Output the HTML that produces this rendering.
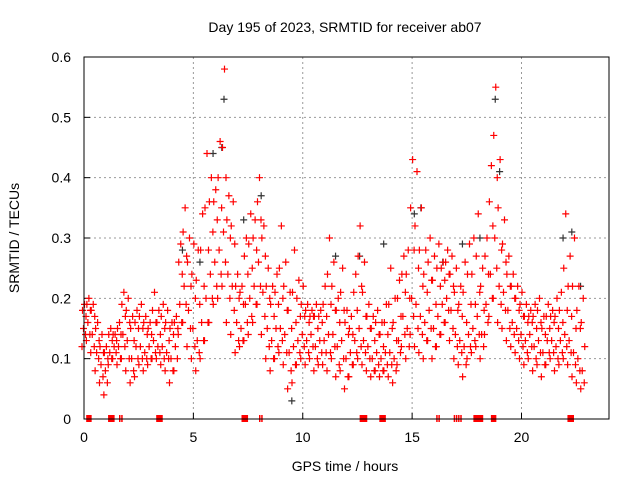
<!DOCTYPE html>
<html><head><meta charset="utf-8"><style>
body{margin:0;background:#fff}
svg text{font-family:"Liberation Sans",sans-serif;font-size:14px;fill:#000}
</style></head><body>
<svg id="c" width="640" height="480" xmlns="http://www.w3.org/2000/svg">
<rect width="640" height="480" fill="#fff"/>
<text x="345" y="32" text-anchor="middle">Day 195 of 2023, SRMTID for receiver ab07</text>
<text x="345" y="471" text-anchor="middle">GPS time / hours</text>
<text transform="translate(19,238) rotate(-90)" text-anchor="middle">SRMTID / TECUs</text>
<g id="grid"></g><g id="ticks"></g><g id="marks"></g>
<rect x="84" y="57" width="525" height="362" fill="none" stroke="#000" stroke-width="1"/>
</svg>
<script>
const xTicks=[0,5,10,15,20];
const yTicks=[0,0.1,0.2,0.3,0.4,0.5,0.6];
const times=[0,0.2,0.4,0.6,0.8,1.0,1.2,1.4,1.6,1.8,2.0,2.2,2.4,2.6,2.8,3.0,3.2,3.4,3.6,3.8,4.0,4.2,4.4,4.6,4.8,5.0,5.2,5.4,5.6,5.8,6.0,6.2,6.4,6.6,6.8,7.0,7.2,7.4,7.6,7.8,8.0,8.2,8.4,8.6,8.8,9.0,9.2,9.4,9.6,9.8,10.0,10.2,10.4,10.6,10.8,11.0,11.2,11.4,11.6,11.8,12.0,12.2,12.4,12.6,12.8,13.0,13.2,13.4,13.6,13.8,14.0,14.2,14.4,14.6,14.8,15.0,15.2,15.4,15.6,15.8,16.0,16.2,16.4,16.6,16.8,17.0,17.2,17.4,17.6,17.8,18.0,18.2,18.4,18.6,18.8,19.0,19.2,19.4,19.6,19.8,20.0,20.2,20.4,20.6,20.8,21.0,21.2,21.4,21.6,21.8,22.0,22.2,22.4,22.6,22.8];
const redLow=[.12,.13,.11,.08,.06,.04,.09,.10,.09,.10,.08,.06,.07,.09,.08,.09,.10,.10,.09,.08,.06,.08,.14,.16,.12,.10,.08,.10,.13,.16,.19,.20,.22,.16,.14,.11,.12,.13,.14,.16,.19,.14,.10,.08,.10,.11,.09,.05,.06,.09,.10,.09,.10,.08,.09,.09,.08,.10,.07,.08,.05,.07,.09,.10,.09,.08,.07,.08,.07,.08,.07,.06,.09,.12,.10,.14,.12,.11,.10,.13,.10,.12,.14,.16,.13,.10,.09,.07,.10,.11,.12,.10,.14,.17,.20,.16,.15,.13,.12,.11,.10,.09,.10,.08,.09,.07,.09,.10,.08,.09,.10,.09,.07,.06,.05];
const redA=[.14,.14,.12,.10,.07,.06,.10,.11,.10,.12,.10,.08,.10,.10,.10,.10,.11,.11,.10,.10,.08,.10,.16,.19,.15,.12,.11,.13,.16,.20,.22,.24,.26,.20,.18,.13,.13,.16,.17,.19,.22,.17,.12,.10,.12,.13,.11,.08,.09,.11,.12,.11,.12,.10,.11,.11,.11,.12,.09,.10,.07,.09,.11,.12,.11,.10,.08,.09,.08,.09,.09,.08,.11,.14,.12,.17,.15,.14,.13,.15,.12,.14,.16,.18,.15,.12,.11,.09,.12,.13,.14,.12,.16,.20,.25,.19,.18,.15,.14,.13,.12,.11,.12,.10,.11,.09,.11,.11,.10,.11,.12,.11,.09,.08,.06];
const redMid1=[.15,.16,.14,.11,.09,.08,.11,.12,.12,.14,.13,.10,.12,.12,.11,.12,.13,.12,.12,.11,.10,.12,.19,.22,.18,.15,.13,.16,.20,.24,.26,.28,.31,.24,.22,.16,.15,.19,.20,.22,.26,.21,.15,.13,.15,.15,.14,.11,.12,.13,.14,.13,.14,.12,.13,.13,.14,.14,.12,.13,.10,.11,.13,.15,.13,.12,.10,.11,.10,.11,.11,.10,.13,.17,.15,.20,.19,.17,.16,.18,.15,.17,.19,.20,.18,.14,.13,.12,.14,.15,.17,.14,.19,.24,.30,.22,.21,.18,.16,.15,.14,.13,.14,.12,.13,.11,.13,.13,.12,.13,.14,.13,.11,.10,.08];
const redMid2=[.17,.18,.17,.13,.11,.10,.13,.13,.14,.17,.16,.13,.15,.15,.14,.14,.16,.14,.15,.13,.14,.15,.24,.27,.22,.20,.19,.22,.28,.31,.33,.35,.40,.30,.29,.20,.19,.24,.25,.28,.33,.27,.20,.17,.19,.20,.18,.15,.16,.17,.17,.16,.17,.15,.16,.17,.19,.18,.16,.18,.14,.14,.18,.22,.17,.15,.13,.14,.12,.14,.15,.13,.17,.21,.20,.28,.25,.22,.21,.23,.19,.22,.23,.24,.22,.18,.17,.16,.19,.19,.21,.18,.24,.32,.40,.28,.26,.22,.20,.18,.17,.16,.16,.15,.16,.14,.15,.16,.15,.16,.18,.17,.15,.15,.12];
const redB=[.18,.19,.18,.15,.12,.11,.14,.14,.15,.19,.18,.15,.16,.17,.16,.15,.18,.16,.17,.16,.15,.16,.26,.31,.26,.24,.23,.28,.35,.36,.36,.40,.45,.33,.32,.22,.21,.27,.29,.30,.36,.30,.22,.19,.21,.25,.22,.18,.21,.20,.19,.18,.17,.17,.17,.19,.24,.22,.18,.21,.16,.15,.21,.27,.21,.17,.15,.16,.14,.16,.19,.16,.20,.24,.24,.35,.32,.28,.24,.26,.23,.25,.25,.26,.24,.21,.19,.21,.24,.24,.27,.22,.27,.36,.47,.35,.29,.24,.22,.20,.19,.17,.17,.17,.18,.15,.17,.17,.17,.18,.25,.22,.22,.18,.16];
const redHigh=[.19,.20,.19,.16,.14,.12,.15,.14,.16,.21,.20,.17,.18,.19,.17,.16,.21,.18,.19,.18,.16,.17,.29,.35,.30,.29,.28,.34,.44,.40,.38,.46,.58,.37,.36,.24,.22,.30,.34,.33,.40,.32,.25,.22,.24,.32,.26,.21,.28,.23,.22,.19,.18,.19,.18,.22,.30,.26,.20,.25,.18,.17,.24,.32,.26,.19,.17,.18,.16,.19,.25,.20,.23,.27,.28,.43,.41,.35,.28,.30,.27,.29,.26,.28,.27,.25,.22,.26,.29,.30,.34,.25,.30,.42,.55,.43,.33,.27,.24,.22,.21,.19,.18,.19,.20,.17,.19,.18,.20,.21,.34,.27,.30,.22,.20];
const blackT=[4.5,5.3,5.9,6.3,6.4,7.3,8.1,9.5,11.5,12.6,13.7,15.1,15.4,16.4,17.3,18.1,18.8,19.0,21.9,22.3,22.7];
const blackV=[.28,.26,.44,.45,.53,.33,.37,.03,.27,.27,.29,.34,.35,.26,.29,.30,.53,.41,.30,.31,.22];
const gapStarts=[0.1,1.1,1.6,1.7,3.3,7.2,8.0,8.1,12.6,13.5,16.1,16.2,16.9,17.0,17.1,17.2,17.8,17.9,18.0,18.6,22.1];
const gapWidths=[0.25,0.3,0.05,0.05,0.3,0.3,0.05,0.05,0.35,0.3,0.05,0.05,0.05,0.05,0.05,0.05,0.35,0.35,0.15,0.25,0.3];

const X0=84,X1=609,Y0=419,Y1=57;
const sx=t=>X0+t/24*(X1-X0);
const sy=v=>Y0-v/0.6*(Y0-Y1);
const NS="http://www.w3.org/2000/svg";
const grid=document.getElementById('grid'),ticks=document.getElementById('ticks'),marks=document.getElementById('marks');
function mk(tag,attrs,parent){const e=document.createElementNS(NS,tag);for(const k in attrs)e.setAttribute(k,attrs[k]);parent.appendChild(e);return e;}
xTicks.forEach(t=>{
  const x=sx(t);
  if(t>0){const g=mk('line',{x1:x,x2:x,y1:Y1,y2:Y0,stroke:'#999','stroke-dasharray':'2,3'},grid);
  
  }
  const tk=mk('line',{x1:x,x2:x,y1:Y0,y2:Y0-6,stroke:'#000'},ticks);
  
  
  const lb=mk('text',{x:x,y:Y0+23,'text-anchor':'middle'},ticks);lb.textContent=t;
  
  
});
yTicks.forEach(v=>{
  const y=sy(v);
  if(v>0&&v<0.6){const g=mk('line',{x1:X0,x2:X1,y1:y,y2:y,stroke:'#999','stroke-dasharray':'2,3'},grid);
  
  }
  const tk=mk('line',{x1:X0,x2:X0+6,y1:y,y2:y,stroke:'#000'},ticks);
  
  
  const lb=mk('text',{x:X0-13,y:y+5,'text-anchor':'end'},ticks);lb.textContent=v===0?'0':v.toFixed(1);
  
  
});
function plus(t,v,col,dx,name){
  const x=sx(t)+dx,y=sy(v);
  const p=mk('path',{d:`M${x-3.5},${y}H${x+3.5}M${x},${y-3.5}V${y+3.5}`,stroke:col,'stroke-width':1.2,fill:'none'},marks);
  
  
}
blackT.forEach((t,i)=>plus(t,blackV[i],'#333',0,'black-point'));
const series=[redLow,redA,redMid1,redMid2,redB,redHigh];const offs=[-2,1.5,-0.5,2,-1.5,0.5];
series.forEach((arr,k)=>arr.forEach((v,i)=>plus(times[i],v,'#f00',offs[k],'red-point')));
gapStarts.forEach((t,i)=>{
  const r=mk('rect',{x:sx(t),y:Y0-4,width:Math.max(1.5,gapWidths[i]/24*(X1-X0)),height:7,fill:'#f00'},marks);
  
  
});
</script>
</body></html>
